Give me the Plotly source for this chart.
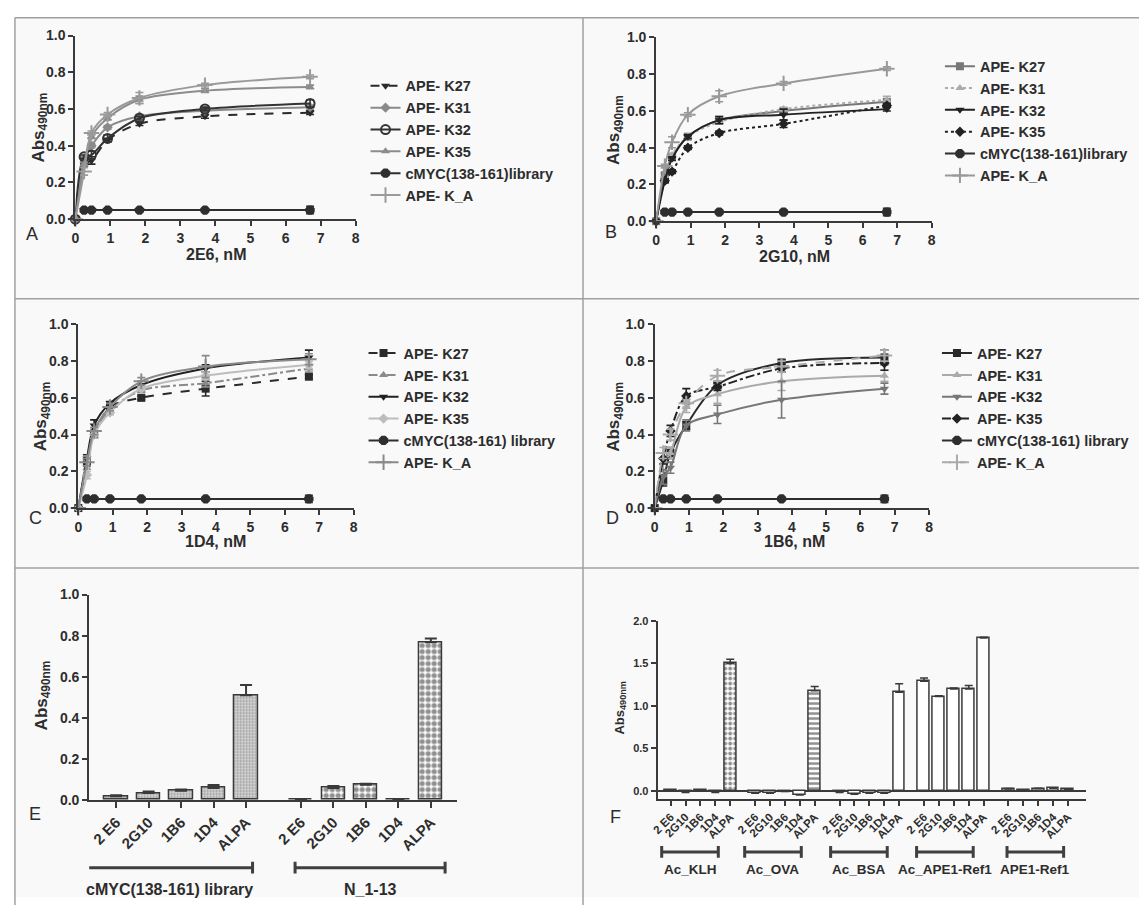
import plotly.graph_objects as go

W, H = 1143, 913

# ---------------- data ----------------
conc = [0, 0.25, 0.46, 0.92, 1.83, 3.7, 6.7]
conc_lib = [0.25, 0.46, 0.92, 1.83, 3.7, 6.7]
lib_level = [0.05, 0.05, 0.05, 0.05, 0.05, 0.05]
lib_err = [0, 0, 0, 0, 0, 0.02]

# Panel A : 2E6
A_names = ["APE- K27", "APE- K31", "APE- K32", "APE- K35", "cMYC(138-161)library", "APE- K_A"]
A_K27 = [0, 0.30, 0.32, 0.43, 0.52, 0.56, 0.58]
A_K31 = [0, 0.33, 0.40, 0.50, 0.56, 0.59, 0.61]
A_K32 = [0, 0.34, 0.35, 0.44, 0.55, 0.60, 0.63]
A_K35 = [0, 0.30, 0.45, 0.55, 0.65, 0.70, 0.72]
A_KA = [0, 0.26, 0.47, 0.57, 0.66, 0.73, 0.775]
A_K27_err = [0, 0.01, 0.02, 0.01, 0.01, 0.01, 0.01]
A_K31_err = [0, 0.01, 0.01, 0.01, 0.01, 0.01, 0.01]
A_K32_err = [0, 0.01, 0.02, 0.02, 0.01, 0.01, 0.02]
A_K35_err = [0, 0.01, 0.01, 0.01, 0.02, 0.01, 0.01]
A_KA_err = [0, 0.02, 0.01, 0.01, 0.03, 0.01, 0.01]

# Panel B : 2G10
B_names = ["APE- K27", "APE- K31", "APE- K32", "APE- K35", "cMYC(138-161)library", "APE- K_A"]
B_K27 = [0, 0.25, 0.35, 0.46, 0.55, 0.60, 0.65]
B_K31 = [0, 0.23, 0.36, 0.46, 0.54, 0.61, 0.66]
B_K32 = [0, 0.22, 0.34, 0.46, 0.55, 0.58, 0.61]
B_K35 = [0, 0.22, 0.27, 0.40, 0.48, 0.53, 0.63]
B_KA = [0, 0.30, 0.43, 0.58, 0.68, 0.75, 0.83]
B_K27_err = [0, 0.01, 0.01, 0.01, 0.02, 0.01, 0.01]
B_K31_err = [0, 0.01, 0.01, 0.01, 0.01, 0.01, 0.02]
B_K32_err = [0, 0.01, 0.01, 0.01, 0.02, 0.03, 0.01]
B_K35_err = [0, 0.01, 0.01, 0.01, 0.01, 0.02, 0.01]
B_KA_err = [0, 0.01, 0.03, 0.01, 0.03, 0.01, 0.01]

# Panel C : 1D4
C_names = ["APE- K27", "APE- K31", "APE- K32", "APE- K35", "cMYC(138-161) library", "APE- K_A"]
C_K27 = [0, 0.25, 0.40, 0.55, 0.60, 0.65, 0.715]
C_K31 = [0, 0.22, 0.41, 0.53, 0.64, 0.68, 0.76]
C_K32 = [0, 0.27, 0.45, 0.57, 0.67, 0.76, 0.82]
C_K35 = [0, 0.18, 0.40, 0.52, 0.65, 0.72, 0.78]
C_KA = [0, 0.25, 0.42, 0.55, 0.69, 0.77, 0.81]
C_K27_err = [0, 0.02, 0.02, 0.01, 0.01, 0.04, 0.01]
C_K31_err = [0, 0.04, 0.02, 0.02, 0.01, 0.02, 0.02]
C_K32_err = [0, 0.02, 0.03, 0.01, 0.02, 0.02, 0.04]
C_K35_err = [0, 0.02, 0.02, 0.01, 0.01, 0.02, 0.02]
C_KA_err = [0, 0.02, 0.02, 0.02, 0.02, 0.06, 0.03]

# Panel D : 1B6
D_names = ["APE- K27", "APE- K31", "APE -K32", "APE- K35", "cMYC(138-161) library", "APE- K_A"]
D_K27 = [0, 0.15, 0.30, 0.45, 0.67, 0.79, 0.82]
D_K31 = [0, 0.25, 0.30, 0.55, 0.62, 0.69, 0.72]
D_K32 = [0, 0.17, 0.22, 0.45, 0.51, 0.59, 0.65]
D_K35 = [0, 0.27, 0.42, 0.61, 0.66, 0.76, 0.79]
D_KA = [0, 0.30, 0.40, 0.57, 0.72, 0.77, 0.83]
D_K27_err = [0, 0.03, 0.03, 0.02, 0.02, 0.02, 0.04]
D_K31_err = [0, 0.05, 0.03, 0.03, 0.05, 0.05, 0.03]
D_K32_err = [0, 0.04, 0.03, 0.03, 0.05, 0.10, 0.03]
D_K35_err = [0, 0.03, 0.03, 0.04, 0.02, 0.02, 0.04]
D_KA_err = [0, 0.03, 0.03, 0.02, 0.03, 0.03, 0.03]

# Panel E
E_labels = ["2 E6", "2G10", "1B6", "1D4", "ALPA"]
E_groups = ["cMYC(138-161) library", "N_1-13"]
E_lib = [0.018, 0.033, 0.045, 0.058, 0.51]
E_lib_err = [0.004, 0.008, 0.006, 0.015, 0.05]
E_N = [0.003, 0.058, 0.074, 0.003, 0.768]
E_N_err = [0.0, 0.01, 0.004, 0.0, 0.018]

# Panel F
F_labels = ["2 E6", "2G10", "1B6", "1D4", "ALPA"]
F_groups = ["Ac_KLH", "Ac_OVA", "Ac_BSA", "Ac_APE1-Ref1", "APE1-Ref1"]
F_KLH = [0.005, -0.02, 0.01, -0.02, 1.50]
F_KLH_err = [0, 0, 0, 0, 0.05]
F_OVA = [-0.03, -0.03, -0.01, -0.05, 1.18]
F_OVA_err = [0, 0, 0, 0, 0.05]
F_BSA = [-0.02, -0.04, -0.03, -0.03, 1.16]
F_BSA_err = [0, 0, 0, 0, 0.10]
F_AcAPE = [1.29, 1.11, 1.20, 1.20, 1.80]
F_AcAPE_err = [0.04, 0.01, 0.01, 0.04, 0.01]
F_APE = [0.02, 0.01, 0.025, 0.03, 0.015]
F_APE_err = [0.005, 0.003, 0.005, 0.005, 0.005]

# ---------------- helpers ----------------
FONT = "Liberation Sans"
TXT = "#2d2d2d"
AX = "#3a3a3a"


def fx(p):
    return p / W


def fy(p):
    return 1 - p / H


fig = go.Figure()


def curve(name, x, y, err, color, dash, symbol, xa, ya, leg):
    line_sym = symbol in ("circle-open", "cross-thin")
    size = {"cross-thin": 11, "octagon": 10, "circle-open": 9}.get(symbol, 8)
    marker = dict(symbol=symbol, size=size, color=color,
                  line=dict(width=2 if line_sym else 0, color=color))
    fig.add_trace(go.Scatter(
        x=x, y=y, mode="lines+markers", name=name,
        line=dict(color=color, width=2, dash=dash, shape="spline", smoothing=0.9),
        marker=marker,
        error_y=dict(type="data", array=err, color=color, thickness=1.6, width=4),
        xaxis=xa, yaxis=ya, legend=leg, cliponaxis=False))


panels = [
    ("x", "y", "legend", A_names, [A_K27, A_K31, A_K32, A_K35, None, A_KA],
     [A_K27_err, A_K31_err, A_K32_err, A_K35_err, None, A_KA_err],
     [("#2a2a2a", "dash", "triangle-down"), ("#8a8a8a", "solid", "diamond"),
      ("#333333", "solid", "circle-open"), ("#8c8c8c", "solid", "triangle-up"),
      ("#2e2e2e", "solid", "octagon"), ("#9a9a9a", "solid", "cross-thin")]),
    ("x2", "y2", "legend2", B_names, [B_K27, B_K31, B_K32, B_K35, None, B_KA],
     [B_K27_err, B_K31_err, B_K32_err, B_K35_err, None, B_KA_err],
     [("#777777", "solid", "square"), ("#ababab", "dot", "triangle-up"),
      ("#222222", "solid", "triangle-down"), ("#222222", "dot", "diamond"),
      ("#2e2e2e", "solid", "octagon"), ("#999999", "solid", "cross-thin")]),
    ("x3", "y3", "legend3", C_names, [C_K27, C_K31, C_K32, C_K35, None, C_KA],
     [C_K27_err, C_K31_err, C_K32_err, C_K35_err, None, C_KA_err],
     [("#2a2a2a", "dash", "square"), ("#8a8a8a", "dashdot", "triangle-up"),
      ("#222222", "solid", "triangle-down"), ("#bdbdbd", "solid", "diamond"),
      ("#2e2e2e", "solid", "octagon"), ("#8a8a8a", "solid", "cross-thin")]),
    ("x4", "y4", "legend4", D_names, [D_K27, D_K31, D_K32, D_K35, None, D_KA],
     [D_K27_err, D_K31_err, D_K32_err, D_K35_err, None, D_KA_err],
     [("#2a2a2a", "solid", "square"), ("#aaaaaa", "solid", "triangle-up"),
      ("#777777", "solid", "triangle-down"), ("#222222", "dashdot", "diamond"),
      ("#2e2e2e", "solid", "octagon"), ("#aaaaaa", "dash", "cross-thin")]),
]

for xa, ya, leg, names, series, errs, styles in panels:
    for name, ys, er, (col, dash, sym) in zip(names, series, errs, styles):
        if ys is None:
            curve(name, conc_lib, lib_level, lib_err, col, dash, sym, xa, ya, leg)
        else:
            curve(name, conc, ys, er, col, dash, sym, xa, ya, leg)

# ---- Panel E bars ----
E_GAP = 5.69
E_pos = [[g * E_GAP + i for i in range(len(E_labels))] for g in range(len(E_groups))]
fig.add_trace(go.Bar(
    x=E_pos[0], y=E_lib, width=0.72, showlegend=False, xaxis="x5", yaxis="y5",
    marker=dict(color="#cfcfcf", line=dict(color=AX, width=1.5),
                pattern=dict(shape=".", fgcolor="#555555", bgcolor="#d6d6d6", size=3, solidity=0.4)),
    error_y=dict(type="data", symmetric=False, array=E_lib_err, arrayminus=[0] * 5,
                 color=AX, thickness=2, width=6)))
fig.add_trace(go.Bar(
    x=E_pos[1], y=E_N, width=0.72, showlegend=False, xaxis="x5", yaxis="y5",
    marker=dict(color="white", line=dict(color=AX, width=1.5),
                pattern=dict(shape=".", fgcolor="#222222", bgcolor="white", size=6, solidity=0.6)),
    error_y=dict(type="data", symmetric=False, array=E_N_err, arrayminus=[0] * 5,
                 color=AX, thickness=2, width=6)))

# ---- Panel F bars ----
F_GAP = 5.67
F_series = [F_KLH, F_OVA, F_BSA, F_AcAPE, F_APE]
F_errs = [F_KLH_err, F_OVA_err, F_BSA_err, F_AcAPE_err, F_APE_err]
F_patterns = [["", "", "", "", "."], ["", "", "", "", "-"], ["", "", "", "", ""],
              ["", "", "", "", ""], ["", "", "", "", ""]]
F_pos = [[g * F_GAP + i for i in range(len(F_labels))] for g in range(len(F_groups))]
for g, (vals, er, pat) in enumerate(zip(F_series, F_errs, F_patterns)):
    fig.add_trace(go.Bar(
        x=F_pos[g], y=vals, width=0.8, showlegend=False, xaxis="x6", yaxis="y6",
        marker=dict(color="white", line=dict(color=AX, width=1.5),
                    pattern=dict(shape=pat, fgcolor="#222222", bgcolor="white", size=5, solidity=0.5)),
        error_y=dict(type="data", symmetric=False, array=er, arrayminus=[0] * 5,
                     color=AX, thickness=1.5, width=4)))

# ---------------- layout ----------------
tickfont = dict(family=FONT, size=14, color=TXT, weight="bold")
base_axis = dict(showline=True, linecolor=AX, linewidth=2, ticks="outside", ticklen=5,
                 tickwidth=2, tickcolor=AX, showgrid=False, zeroline=False, tickfont=tickfont,
                 fixedrange=True)

doms = {
    "1": ((69, 352), (28, 215)),
    "2": ((655.5, 933.6), (30, 217)),
    "3": ((72, 350), (322, 509)),
    "4": ((654, 931), (322, 509)),
    "5": ((83, 454.5), (597, 806)),
    "6": ((657, 1089), (624, 805)),
}

layout = dict(width=W, height=H, margin=dict(l=0, r=0, t=0, b=0),
              paper_bgcolor="white", plot_bgcolor="rgba(0,0,0,0)", bargap=0, barmode="overlay")

for k in ["1", "2", "3", "4"]:
    (x0, x1), (y0, y1) = doms[k]
    xn = "xaxis" if k == "1" else "xaxis" + k
    yn = "yaxis" if k == "1" else "yaxis" + k
    ya = "y" if k == "1" else "y" + k
    xa = "x" if k == "1" else "x" + k
    layout[xn] = dict(base_axis, domain=[fx(x0), fx(x1)], anchor=ya, range=[0, 8], dtick=1, tick0=0)
    layout[yn] = dict(base_axis, domain=[fy(y1), fy(y0)], anchor=xa, range=[0, 1], dtick=0.2,
                      tick0=0, tickformat=".1f")

(x0, x1), (y0, y1) = doms["5"]
layout["xaxis5"] = dict(base_axis, domain=[fx(x0), fx(x1)], anchor="y5",
                        range=[-0.83, E_pos[1][-1] + 0.81],
                        tickvals=E_pos[0] + E_pos[1], ticktext=E_labels + E_labels,
                        tickangle=-45, ticklen=6,
                        tickfont=dict(family=FONT, size=15, color=TXT, weight="bold"))
layout["yaxis5"] = dict(base_axis, domain=[fy(y1), fy(y0)], anchor="x5", range=[0, 1],
                        dtick=0.2, tick0=0, tickformat=".1f")

(x0, x1), (y0, y1) = doms["6"]
layout["xaxis6"] = dict(base_axis, domain=[fx(x0), fx(x1)], anchor="y6",
                        range=[-0.87, F_pos[-1][-1] + 1.17],
                        tickvals=sum(F_pos, []), ticktext=F_labels * len(F_groups),
                        tickangle=-45, ticklen=5,
                        tickfont=dict(family=FONT, size=11.5, color=TXT, weight="bold"))
layout["yaxis6"] = dict(base_axis, domain=[fy(y1), fy(y0)], anchor="x6", range=[-0.096, 2.0],
                        dtick=0.5, tick0=0, tickformat=".1f", zeroline=True, zerolinecolor=AX,
                        zerolinewidth=2,
                        tickfont=dict(family=FONT, size=11, color=TXT, weight="bold"))

legfont = dict(family=FONT, size=14.5, color=TXT, weight="bold")
leg_pos = {"legend": (404, 84), "legend2": (984, 64), "legend3": (402, 356), "legend4": (981, 356)}
for ln, (tx, ty) in leg_pos.items():
    layout[ln] = dict(x=fx(tx - 42), y=fy(ty - 21), xanchor="left", yanchor="top",
                      font=legfont, bgcolor="rgba(0,0,0,0)", borderwidth=0, tracegroupgap=0,
                      itemclick=False, itemdoubleclick=False)

ann = []


def text(t, x, y, size, bold=True, angle=0, xref="paper", xanchor="center"):
    ann.append(dict(text=t, x=x if xref != "paper" else fx(x), y=fy(y), xref=xref, yref="paper",
                    showarrow=False, textangle=angle, xanchor=xanchor, yanchor="middle",
                    font=dict(family=FONT, size=size, color=TXT, weight="bold" if bold else "normal")))


# panel letters
for lt, x, y in [("A", 25, 230), ("B", 610, 228), ("C", 29, 519), ("D", 611, 519),
                 ("E", 28, 820), ("F", 614, 823)]:
    text(lt, x, y, 18, bold=False)

# axis titles
ytitle = "Abs<sub>490nm</sub>"
for x, y, s in [(33, 122, 17), (614, 124, 17), (35, 416, 17), (614, 416, 17), (36, 700, 17),
                (619, 713, 13)]:
    text(ytitle, x, y, s, angle=-90)
for t, x, y in [("2E6, nM", 211, 251), ("2G10, nM", 795, 253), ("1D4, nM", 211, 543),
                ("1B6, nM", 795, 543)]:
    text(t, x, y, 16)

shapes = []
# panel background and borders
shapes.append(dict(type="rect", xref="paper", yref="paper", x0=fx(8), x1=1, y0=fy(905), y1=fy(10),
                   fillcolor="#f9f9f9", line=dict(width=0), layer="below"))
border = dict(color="#a0a0a0", width=1.5)
for (xa0, ya0, xa1, ya1) in [(8, 10, 1143, 10), (8, 10, 8, 913), (581.6, 10, 581.6, 913),
                              (8, 296, 1143, 296), (8, 570, 1143, 570)]:
    shapes.append(dict(type="line", xref="paper", yref="paper", x0=fx(xa0), x1=fx(xa1),
                       y0=fy(ya0), y1=fy(ya1), line=border))


def bracket(xref, a, b, ypx, label, size, gap):
    ln = dict(color="#3f3f3f", width=3)
    shapes.append(dict(type="line", xref=xref, yref="paper", x0=a, x1=b, y0=fy(ypx), y1=fy(ypx), line=ln))
    for xx in (a, b):
        shapes.append(dict(type="line", xref=xref, yref="paper", x0=xx, x1=xx,
                           y0=fy(ypx - 6), y1=fy(ypx + 6), line=ln))
    text(label, (a + b) / 2, ypx + gap, size, xref=xref)


# E brackets
bracket("x5", E_pos[0][0] - 0.89, E_pos[0][-1] + 0.2, 875, E_groups[0], 16, 22)
bracket("x5", E_pos[1][0] - 0.18, E_pos[1][-1] + 0.44, 875, E_groups[1], 16, 22)
# F brackets
F_br = [(-0.6, 3.2), (-0.7, 3.1), (-0.6, 3.2), (-0.5, 3.3), (-0.1, 3.7)]
for g, name in enumerate(F_groups):
    a, b = F_br[g]
    bracket("x6", F_pos[g][0] + a, F_pos[g][0] + b, 859, name, 13.5, 18)

layout["annotations"] = ann
layout["shapes"] = shapes
fig.update_layout(**layout)
fig.write_html("out.html")
